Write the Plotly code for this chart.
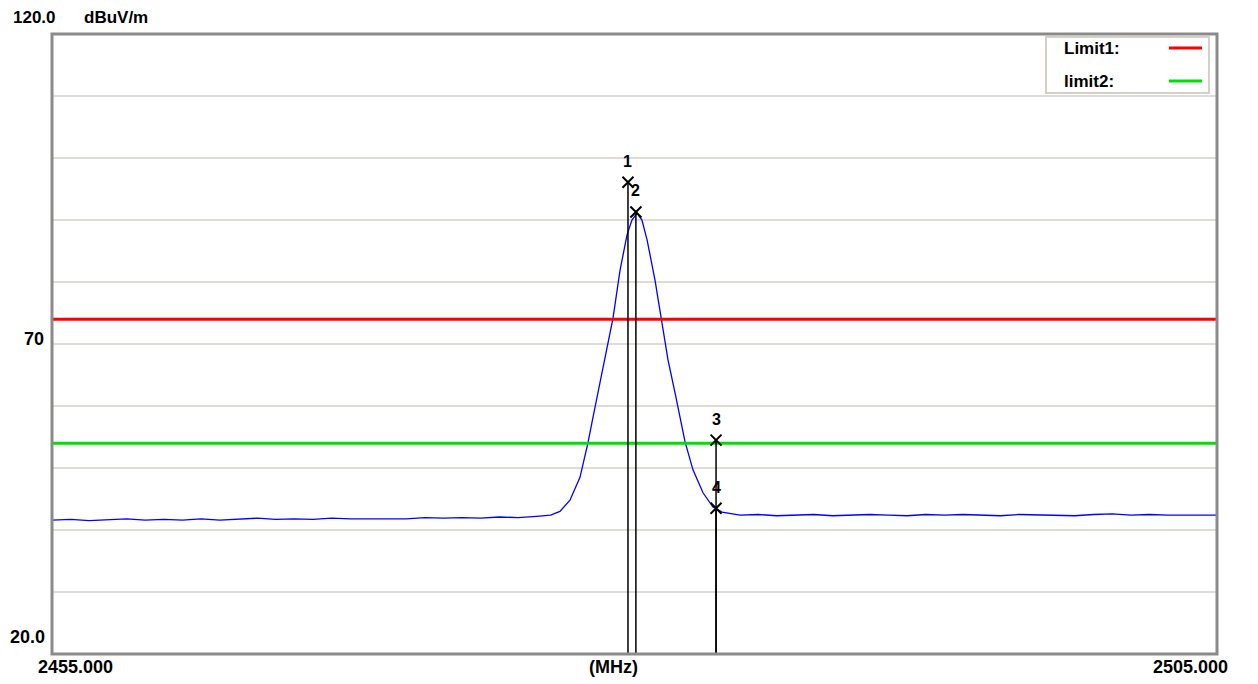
import plotly.graph_objects as go

# ---- data ----
freq_mhz = [
    2455.0, 2455.8, 2456.6, 2457.4, 2458.2, 2459.0, 2459.8, 2460.6, 2461.4, 2462.2,
    2463.0, 2463.8, 2464.6, 2465.4, 2466.2, 2467.0, 2467.8, 2468.6, 2469.4, 2470.2,
    2471.0, 2471.8, 2472.6, 2473.4, 2474.2, 2475.0, 2475.8, 2476.4, 2476.8, 2477.23,
    2477.66, 2478.0, 2478.22, 2478.52, 2478.73, 2479.08, 2479.38, 2479.68, 2479.89, 2480.11,
    2480.32, 2480.54, 2480.88, 2481.14, 2481.44, 2481.74, 2482.17, 2482.51, 2482.94, 2483.37,
    2483.76, 2484.53, 2485.3, 2486.1, 2486.9, 2487.7, 2488.5, 2489.3, 2490.1, 2490.9,
    2491.7, 2492.5, 2493.3, 2494.1, 2494.9, 2495.7, 2496.5, 2497.3, 2498.1, 2498.9,
    2499.7, 2500.5, 2501.3, 2502.1, 2502.9, 2503.7, 2504.5, 2505.0,
]
level_dbuv = [
    41.6, 41.7, 41.5, 41.6, 41.8, 41.6, 41.7, 41.6, 41.8, 41.6,
    41.7, 41.9, 41.7, 41.8, 41.7, 41.9, 41.8, 41.8, 41.9, 41.8,
    42.0, 41.9, 42.0, 41.9, 42.1, 42.0, 42.2, 42.4, 43.0, 44.8,
    48.5, 54.0, 58.2, 63.7, 67.4, 74.2, 81.9, 87.6, 90.0, 91.1,
    90.0, 86.8, 80.3, 74.2, 67.4, 62.1, 54.2, 49.7, 46.0, 43.7,
    42.9, 42.4, 42.5, 42.3, 42.4, 42.5, 42.3, 42.4, 42.5, 42.4,
    42.3, 42.5, 42.4, 42.5, 42.4, 42.3, 42.5, 42.4, 42.4, 42.3,
    42.5, 42.6, 42.4, 42.5, 42.4, 42.4, 42.3, 42.4,
]
limit_names = ["Limit1:", "limit2:"]
limit_values = [74.0, 54.0]
limit_colors = ["#ff0000", "#00e000"]

marker_ids = ["1", "2", "3", "4"]
marker_freq = [2479.72, 2480.06, 2483.5, 2483.5]
marker_level = [96.1, 91.3, 54.5, 43.5]

x_range = [2455.0, 2505.0]
y_range = [20.0, 120.0]
y_grid = [30, 40, 50, 60, 70, 80, 90, 100, 110]

# ---- layout geometry (screen px; page body has an 8px margin) ----
OFF = 8
W, H = 1258 - OFF, 684 - OFF
L, R, T, B = 52, 1217, 34, 654


def px(xp):
    return (xp - L) / (R - L)


def py(yp):
    return (B - yp) / (B - T)


fig = go.Figure()

# main trace
fig.add_trace(go.Scatter(x=freq_mhz, y=level_dbuv, mode="lines",
                         line=dict(color="#0000ff", width=1.3), showlegend=False,
                         hoverinfo="x+y"))

# limit lines
for name, val, col in zip(limit_names, limit_values, limit_colors):
    fig.add_trace(go.Scatter(x=x_range, y=[val, val], mode="lines",
                             line=dict(color=col, width=3), name=name, showlegend=False))

# marker vertical lines
for f, lv in zip(marker_freq, marker_level):
    fig.add_trace(go.Scatter(x=[f, f], y=[lv, y_range[0]], mode="lines",
                             line=dict(color="#000000", width=1.5), showlegend=False,
                             hoverinfo="skip"))

# markers
fig.add_trace(go.Scatter(x=marker_freq, y=marker_level, mode="markers",
                         marker=dict(symbol="x-thin", size=11, line=dict(color="#000000", width=2)),
                         showlegend=False))

annotations = []
for mid, f, lv in zip(marker_ids, marker_freq, marker_level):
    annotations.append(dict(x=f, y=lv, xref="x", yref="y", text="<b>" + mid + "</b>",
                            showarrow=False, yshift=21, xanchor="center", yanchor="middle",
                            font=dict(family="Liberation Sans", size=16, color="#000")))

axis_font = dict(family="Liberation Sans", size=18, color="#000")
top_font = dict(family="Liberation Sans", size=17, color="#000")
annotations += [
    dict(x=px(57), y=py(18), xref="paper", yref="paper", text="<b>120.0</b>", showarrow=False,
         xanchor="right", yanchor="middle", font=top_font, borderpad=0),
    dict(x=px(83), y=py(18), xref="paper", yref="paper", text="<b>dBuV/m</b>", showarrow=False,
         xanchor="left", yanchor="middle", font=top_font, borderpad=0),
    dict(x=px(46), y=py(339), xref="paper", yref="paper", text="<b>70</b>", showarrow=False,
         xanchor="right", yanchor="middle", font=axis_font),
    dict(x=px(47), y=py(637), xref="paper", yref="paper", text="<b>20.0</b>", showarrow=False,
         xanchor="right", yanchor="middle", font=axis_font),
    dict(x=px(75), y=py(667), xref="paper", yref="paper", text="<b>2455.000</b>", showarrow=False,
         xanchor="center", yanchor="middle", font=axis_font),
    dict(x=px(613), y=py(667), xref="paper", yref="paper", text="<b>(MHz)</b>", showarrow=False,
         xanchor="center", yanchor="middle", font=axis_font),
    dict(x=px(1190), y=py(667), xref="paper", yref="paper", text="<b>2505.000</b>", showarrow=False,
         xanchor="center", yanchor="middle", font=axis_font),
]

shapes = []
for g in y_grid:
    shapes.append(dict(type="line", xref="paper", yref="y", x0=0, x1=1, y0=g, y1=g,
                       line=dict(color="#d4d0c8", width=1.5), layer="below"))

# legend box (custom, text left / line right)
shapes.append(dict(type="rect", xref="paper", yref="paper", x0=px(1046), x1=px(1209),
                   y0=py(93), y1=py(37), line=dict(color="#d4d0c8", width=2),
                   fillcolor="#ffffff", layer="above"))
leg_y = [48, 81]
for name, col, ly in zip(limit_names, limit_colors, leg_y):
    shapes.append(dict(type="line", xref="paper", yref="paper", x0=px(1169), x1=px(1202),
                       y0=py(ly), y1=py(ly), line=dict(color=col, width=3), layer="above"))
    annotations.append(dict(x=px(1062), y=py(ly), xref="paper", yref="paper",
                            text="<b>" + name + "</b>", showarrow=False,
                            xanchor="left", yanchor="middle",
                            font=dict(family="Liberation Sans", size=17, color="#000")))

# plot frame
shapes.append(dict(type="rect", xref="paper", yref="paper", x0=0, x1=1, y0=0, y1=1,
                   line=dict(color="#8a8a8a", width=3), layer="above"))

fig.update_layout(
    width=W, height=H,
    margin=dict(l=L - OFF, r=1258 - R, t=T - OFF, b=684 - B, pad=0),
    paper_bgcolor="#ffffff", plot_bgcolor="#ffffff",
    xaxis=dict(range=x_range, showgrid=False, zeroline=False, showticklabels=False,
               ticks="", showline=False, fixedrange=True),
    yaxis=dict(range=y_range, showgrid=False, zeroline=False, showticklabels=False,
               ticks="", showline=False, fixedrange=True),
    shapes=shapes, annotations=annotations, showlegend=False,
)

fig.write_html("out.html")
